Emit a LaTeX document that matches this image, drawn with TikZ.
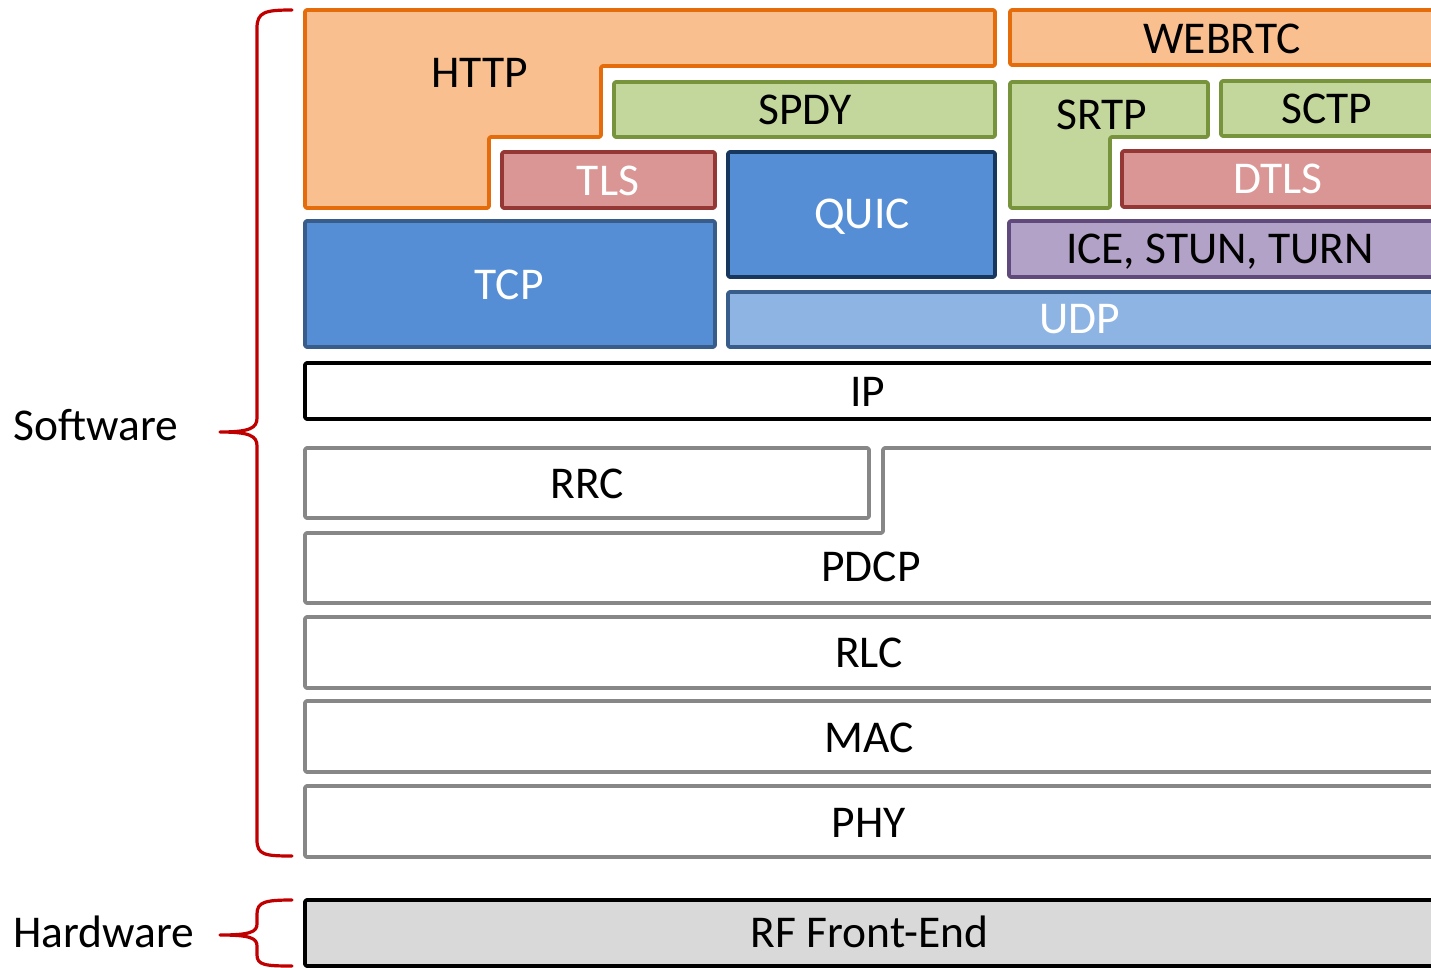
\documentclass[tikz,border=0pt]{standalone}
\usepackage{fontspec}
\setmainfont{Carlito}
\definecolor{orfill}{HTML}{F9BF8F}
\definecolor{ordraw}{HTML}{E46C0A}
\definecolor{grfill}{HTML}{C3D69B}
\definecolor{grdraw}{HTML}{77933C}
\definecolor{rdfill}{HTML}{D99694}
\definecolor{rddraw}{HTML}{953735}
\definecolor{blfill}{HTML}{558ED5}
\definecolor{bldraw}{HTML}{385D8A}
\definecolor{bldark}{HTML}{17375E}
\definecolor{ltfill}{HTML}{8EB4E3}
\definecolor{pufill}{HTML}{B3A2C7}
\definecolor{pudraw}{HTML}{604A7B}
\definecolor{gydraw}{HTML}{878787}
\definecolor{rffill}{HTML}{D9D9D9}
\definecolor{brace}{HTML}{C00000}
\begin{document}
\begin{tikzpicture}[x=1pt,y=-1pt,
  shp/.style={line width=3.6pt, rounded corners=1.5pt, line join=round},
  orange/.style={shp, fill=orfill, draw=ordraw},
  green/.style={shp, fill=grfill, draw=grdraw},
  red/.style={shp, fill=rdfill, draw=rddraw},
  blue/.style={shp, fill=blfill, draw=bldraw},
  bluedark/.style={shp, fill=blfill, draw=bldark},
  lightblue/.style={shp, fill=ltfill, draw=bldraw},
  purple/.style={shp, fill=pufill, draw=pudraw},
  gray/.style={shp, fill=white, draw=gydraw},
  blackbox/.style={shp, fill=white, draw=black},
  rf/.style={shp, fill=rffill, draw=black},
  bracestyle/.style={draw=brace, line width=3.2pt, line cap=round, line join=round},
  lbl/.style={inner sep=0pt, text height=29.3pt, text depth=0pt, font=\fontsize{45.5}{52}\selectfont},
  wlbl/.style={lbl, text=white}]
\useasboundingbox (0,0) rectangle (1431,968);
\clip (0,0) rectangle (1431,968);
% HTTP
\draw[orange] (305,10) -- (995,10) -- (995,66) -- (601,66) -- (601,137) -- (489,137) -- (489,208) -- (305,208) -- cycle;
\node[lbl] (http) at (480,73) {HTTP};
% WEBRTC
\draw[orange] (1010,10) rectangle (1440,65);
\node[lbl] (webrtc) at (1222,38.5) {WEBRTC};
% SPDY
\draw[green] (614,82) rectangle (995,137);
\node[lbl] (spdy) at (805,110) {SPDY};
% SRTP
\draw[green] (1010,82) -- (1208,82) -- (1208,137) -- (1110,137) -- (1110,208) -- (1010,208) -- cycle;
\node[lbl] (srtp) at (1102,115) {SRTP};
% SCTP
\draw[green] (1221,81) rectangle (1440,136);
\node[lbl] (sctp) at (1327,109) {SCTP};
% TLS
\draw[red] (502,152) rectangle (715,208);
\node[wlbl] (tls) at (608,181) {TLS};
% DTLS
\draw[red] (1122,151) rectangle (1440,207);
\node[wlbl] (dtls) at (1278,179) {DTLS};
% QUIC
\draw[bluedark] (728,152) rectangle (995,277);
\node[wlbl] (quic) at (862,214) {QUIC};
% TCP
\draw[blue] (305,221) rectangle (715,347);
\node[wlbl] (tcp) at (509,284.5) {TCP};
% ICE
\draw[purple] (1009,221) rectangle (1440,277);
\node[lbl] (ice) at (1220,249) {ICE, STUN, TURN};
% UDP
\draw[lightblue] (728,292) rectangle (1440,347);
\node[wlbl] (udp) at (1080,319) {UDP};
% IP
\draw[blackbox] (305,363) rectangle (1440,419);
\node[lbl] (ip) at (868,392) {IP};
% RRC
\draw[gray] (305,448) rectangle (869,518);
\node[lbl] (rrc) at (587,484) {RRC};
% PDCP
\draw[gray] (305,533) -- (883,533) -- (883,448) -- (1440,448) -- (1440,603) -- (305,603) -- cycle;
\node[lbl] (pdcp) at (871,567) {PDCP};
% RLC
\draw[gray] (305,617) rectangle (1440,688);
\node[lbl] (rlc) at (869,653) {RLC};
% MAC
\draw[gray] (305,701) rectangle (1440,772);
\node[lbl] (mac) at (869,737.5) {MAC};
% PHY
\draw[gray] (305,786) rectangle (1440,857);
\node[lbl] (phy) at (869,823) {PHY};
% RF
\draw[rf] (305,900) rectangle (1440,966);
\node[lbl] (rfe) at (869.5,933) {RF Front-End};
% Braces
\draw[bracestyle] (292,10) .. controls (265,10) and (257,12) .. (257,28) -- (257,418)
  .. controls (257,428) and (250,432) .. (220,432)
  .. controls (250,432) and (257,436) .. (257,446) -- (257,840)
  .. controls (257,855) and (265,856) .. (292,856);
\draw[bracestyle] (292,900) .. controls (265,900) and (257,902) .. (257,914) -- (257,924)
  .. controls (257,932) and (250,935) .. (220,935)
  .. controls (250,935) and (257,938) .. (257,946) -- (257,955)
  .. controls (257,965) and (265,966) .. (292,966);
\node[lbl] (sw) at (96,426) {Software};
\node[lbl] (hw) at (104,933) {Hardware};
\end{tikzpicture}
\end{document}
